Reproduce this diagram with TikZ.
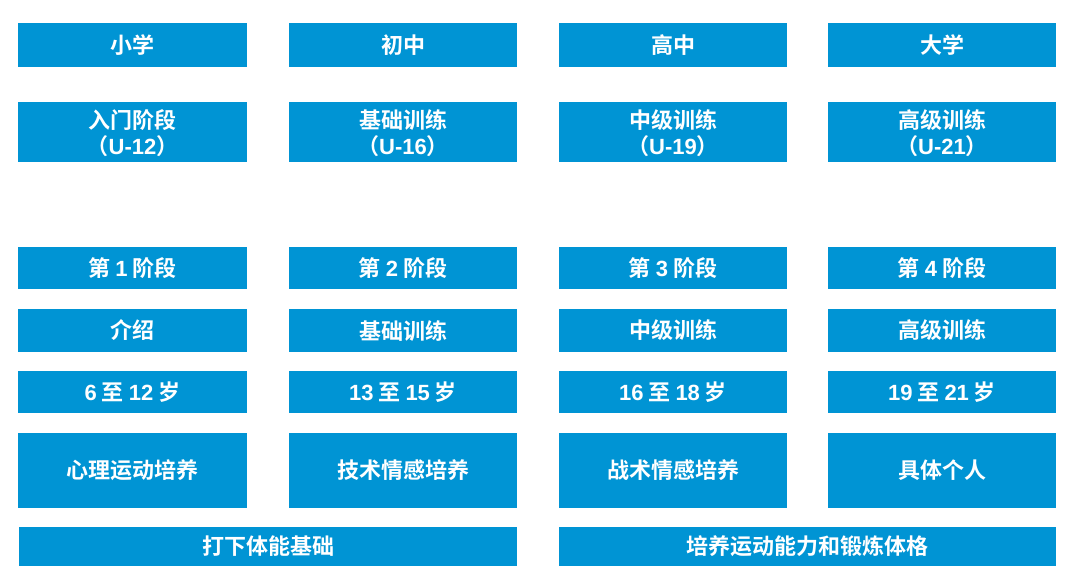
\documentclass[tikz,border=0pt]{standalone}
\usepackage{fontspec}
\setmainfont{Noto Sans CJK SC}[BoldFont=* Bold]
\newfontfamily\latf{Liberation Sans}
\newcommand\dg[1]{{\latf\bfseries #1}}
\definecolor{boxblue}{RGB}{0,148,212}
\begin{document}
\begin{tikzpicture}[x=1pt,y=-1pt,
  box/.style={rectangle, fill=boxblue, draw=none, text=white, inner sep=0pt,
    font=\fontsize{22}{26}\selectfont\bfseries, align=center, minimum width=228.5pt},
  r1/.style={box, minimum height=44pt},
  r2/.style={box, minimum height=60pt},
  r3/.style={box, minimum height=42pt},
  r4/.style={box, minimum height=43pt},
  r5/.style={box, minimum height=42pt},
  r6/.style={box, minimum height=75pt},
  r7/.style={box, minimum height=39pt, minimum width=497.5pt},
  low/.style={yshift=-1.5pt}]
\fill[white] (0,0) rectangle (1080,580);
\useasboundingbox (0,0) rectangle (1080,580);
% row 1
\node[r1] (c1) at (132.5,45) {小学};
\node[r1] (c2) at (403,45) {初中};
\node[r1] (c3) at (673,45) {高中};
\node[r1] (c4) at (942,45) {大学};
% row 2
\node[r2] (t1) at (132.5,132) {};
\node[r2] (t2) at (403,132) {};
\node[r2] (t3) at (673,132) {};
\node[r2] (t4) at (942,132) {};
\node[box, fill=none, low] (tt1) at (t1) {入门阶段\\（\dg{U-12}）};
\node[box, fill=none, low] (tt2) at (t2) {基础训练\\（\dg{U-16}）};
\node[box, fill=none, low] (tt3) at (t3) {中级训练\\（\dg{U-19}）};
\node[box, fill=none, low] (tt4) at (t4) {高级训练\\（\dg{U-21}）};
% row 3
\node[r3] (s1) at (132.5,268) {第 \dg{1} 阶段};
\node[r3] (s2) at (403,268) {第 \dg{2} 阶段};
\node[r3] (s3) at (673,268) {第 \dg{3} 阶段};
\node[r3] (s4) at (942,268) {第 \dg{4} 阶段};
% row 4
\node[r4] (n1) at (132.5,330.5) {介绍};
\node[r4] (n2) at (403,330.5) {基础训练};
\node[r4] (n3) at (673,330.5) {中级训练};
\node[r4] (n4) at (942,330.5) {高级训练};
% row 5
\node[r5] (a1) at (132.5,392) {\dg{6} 至 \dg{12} 岁};
\node[r5] (a2) at (403,392) {\dg{13} 至 \dg{15} 岁};
\node[r5] (a3) at (673,392) {\dg{16} 至 \dg{18} 岁};
\node[r5] (a4) at (942,392) {\dg{19} 至 \dg{21} 岁};
% row 6
\node[r6] (f1) at (132.5,470.5) {心理运动培养};
\node[r6] (f2) at (403,470.5) {技术情感培养};
\node[r6] (f3) at (673,470.5) {战术情感培养};
\node[r6] (f4) at (942,470.5) {具体个人};
% row 7
\node[r7] (b1) at (268,546.5) {打下体能基础};
\node[r7] (b2) at (807.5,546.5) {培养运动能力和锻炼体格};
\end{tikzpicture}
\end{document}
